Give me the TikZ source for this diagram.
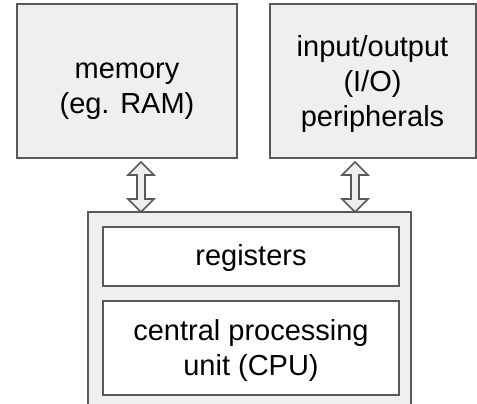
\documentclass[tikz,border=0pt]{standalone}
\usepackage{fontspec}
\setmainfont{Liberation Sans}
\usetikzlibrary{calc}
\definecolor{boxfill}{HTML}{EFEFEF}
\definecolor{boxline}{HTML}{595959}
\tikzset{
  blk/.style={draw=boxline, line width=2pt, fill=boxfill, inner sep=0pt},
  inner/.style={blk, fill=white},
  txt/.style={inner sep=0pt, align=center, font=\fontsize{29}{35}\selectfont},
  dbl/.style={draw=boxline, line width=1.6pt, fill=boxfill, line join=miter}
}
\newcommand{\fatarrow}[2]{%
  \path[dbl] (#1) -- ++(13,13) -- ++(-9,0) -- ($(#2)+(4,-13)$) -- ++(9,0) -- (#2)
    -- ++(-13,-13) -- ++(9,0) -- ($(#1)+(-4,13)$) -- ++(-9,0) -- cycle;}
\begin{document}
\begin{tikzpicture}[x=1pt,y=-1pt]
\useasboundingbox (0,0) rectangle (477,404);
\node[blk, minimum width=220, minimum height=154] (mem) at (127,81) {};
\node[txt] (memt) at ($(mem.center)+(0,10)$) {memory\\(eg. RAM)};
\node[blk, minimum width=206, minimum height=154] (io) at (372.5,81) {};
\node[txt] (iot) at ($(io.center)+(0,3)$) {input/output\\(I/O)\\peripherals};
\node[blk, minimum width=323, minimum height=210] (cpu) at (249.5,317) {};
\node[inner, minimum width=296, minimum height=59] (reg) at (251,256.5) {};
\node[txt] (regt) at ($(reg.center)+(0,2)$) {registers};
\node[inner, minimum width=296, minimum height=94] (alu) at (251,348) {};
\node[txt] (alut) at ($(alu.center)+(0,2)$) {central processing\\unit (CPU)};
\coordinate (a1t) at (141,162);
\coordinate (a1b) at (141,212);
\coordinate (a2t) at (355,162);
\coordinate (a2b) at (355,212);
\fatarrow{a1t}{a1b}
\fatarrow{a2t}{a2b}
\end{tikzpicture}
\end{document}
